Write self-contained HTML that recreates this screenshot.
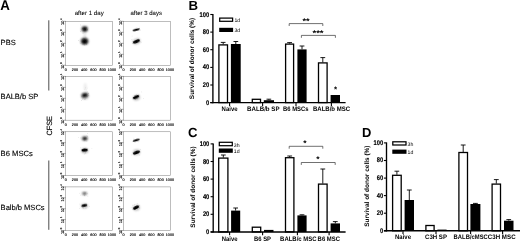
<!DOCTYPE html><html><head><meta charset="utf-8"><title>Figure</title><style>
html,body{margin:0;padding:0;background:#fff;}svg{display:block;}
text{font-family:"Liberation Sans",sans-serif;fill:#000;text-rendering:geometricPrecision;}
.b{font-weight:bold;}
</style></head><body>
<svg width="520" height="241" viewBox="0 0 520 241">
<defs><filter id="bl" x="-50%" y="-50%" width="200%" height="200%"><feGaussianBlur stdDeviation="0.9"/></filter><filter id="bs" x="-50%" y="-50%" width="200%" height="200%"><feGaussianBlur stdDeviation="0.6"/></filter><filter id="gb" x="0" y="0" width="520" height="241" filterUnits="userSpaceOnUse"><feGaussianBlur stdDeviation="0.32"/></filter></defs>
<g filter="url(#gb)">
<rect width="520" height="241" fill="#fff"/>
<text transform="translate(0.30,9.80) scale(0.1)" font-size="142.0" class="b" textLength="96.0" lengthAdjust="spacingAndGlyphs">A</text>
<text transform="translate(188.60,9.50) scale(0.1)" font-size="133.0" class="b">B</text>
<text transform="translate(188.10,137.00) scale(0.1)" font-size="132.0" class="b">C</text>
<text transform="translate(362.00,136.70) scale(0.1)" font-size="130.0" class="b">D</text>
<text transform="translate(74.70,15.00) scale(0.1)" font-size="61.0" textLength="290.0" lengthAdjust="spacingAndGlyphs" stroke="#000" stroke-width="0.6">after 1 day</text>
<text transform="translate(130.50,15.00) scale(0.1)" font-size="61.0" textLength="315.0" lengthAdjust="spacingAndGlyphs" stroke="#000" stroke-width="0.6">after 3 days</text>
<text transform="translate(0.60,44.80) scale(0.1)" font-size="75.0" textLength="151.0" lengthAdjust="spacingAndGlyphs" stroke="#000" stroke-width="1.2">PBS</text>
<text transform="translate(0.60,99.20) scale(0.1)" font-size="75.0" textLength="377.0" lengthAdjust="spacingAndGlyphs" stroke="#000" stroke-width="1.2">BALB/b SP</text>
<text transform="translate(0.60,155.50) scale(0.1)" font-size="75.0" textLength="322.0" lengthAdjust="spacingAndGlyphs" stroke="#000" stroke-width="1.2">B6 MSCs</text>
<text transform="translate(0.60,209.90) scale(0.1)" font-size="75.0" textLength="440.0" lengthAdjust="spacingAndGlyphs" stroke="#000" stroke-width="1.2">Balb/b MSCs</text>
<text transform="translate(52.30,135.60) rotate(-90) scale(0.1)" font-size="76.0" textLength="196.0" lengthAdjust="spacingAndGlyphs" stroke="#000" stroke-width="1.5">CFSE</text>
<line x1="48.8" y1="20.3" x2="48.8" y2="90.5" stroke="#111" stroke-width="0.75"/>
<line x1="48.8" y1="160.5" x2="48.8" y2="229.8" stroke="#111" stroke-width="0.75"/>
<rect x="65.5" y="21.3" width="46.9" height="44.0" fill="none" stroke="#888" stroke-width="0.55"/>
<text transform="translate(65.70,70.65) scale(0.1)" font-size="37.0" text-anchor="middle" stroke="#000" stroke-width="1.5">0</text>
<text transform="translate(74.94,70.65) scale(0.1)" font-size="37.0" text-anchor="middle" stroke="#000" stroke-width="1.5">200</text>
<text transform="translate(84.18,70.65) scale(0.1)" font-size="37.0" text-anchor="middle" stroke="#000" stroke-width="1.5">400</text>
<text transform="translate(93.42,70.65) scale(0.1)" font-size="37.0" text-anchor="middle" stroke="#000" stroke-width="1.5">600</text>
<text transform="translate(102.66,70.65) scale(0.1)" font-size="37.0" text-anchor="middle" stroke="#000" stroke-width="1.5">800</text>
<text transform="translate(111.90,70.65) scale(0.1)" font-size="37.0" text-anchor="middle" stroke="#000" stroke-width="1.5">1000</text>
<text transform="translate(63.80,68.85) rotate(-90) scale(0.1)" font-size="39.0" stroke="#000" stroke-width="1.5">10<tspan dx="5" dy="-17" font-size="28">0</tspan></text>
<line x1="64.3" y1="65.2" x2="65.5" y2="65.2" stroke="#333" stroke-width="0.5"/>
<text transform="translate(63.80,57.86) rotate(-90) scale(0.1)" font-size="39.0" stroke="#000" stroke-width="1.5">10<tspan dx="5" dy="-17" font-size="28">1</tspan></text>
<line x1="64.3" y1="54.3" x2="65.5" y2="54.3" stroke="#333" stroke-width="0.5"/>
<text transform="translate(63.80,46.88) rotate(-90) scale(0.1)" font-size="39.0" stroke="#000" stroke-width="1.5">10<tspan dx="5" dy="-17" font-size="28">2</tspan></text>
<line x1="64.3" y1="43.3" x2="65.5" y2="43.3" stroke="#333" stroke-width="0.5"/>
<text transform="translate(63.80,35.89) rotate(-90) scale(0.1)" font-size="39.0" stroke="#000" stroke-width="1.5">10<tspan dx="5" dy="-17" font-size="28">3</tspan></text>
<line x1="64.3" y1="32.3" x2="65.5" y2="32.3" stroke="#333" stroke-width="0.5"/>
<text transform="translate(63.80,24.90) rotate(-90) scale(0.1)" font-size="39.0" stroke="#000" stroke-width="1.5">10<tspan dx="5" dy="-17" font-size="28">4</tspan></text>
<line x1="64.3" y1="21.3" x2="65.5" y2="21.3" stroke="#333" stroke-width="0.5"/>
<rect x="123.4" y="21.3" width="47.0" height="44.0" fill="none" stroke="#888" stroke-width="0.55"/>
<text transform="translate(123.60,70.65) scale(0.1)" font-size="37.0" text-anchor="middle" stroke="#000" stroke-width="1.5">0</text>
<text transform="translate(132.86,70.65) scale(0.1)" font-size="37.0" text-anchor="middle" stroke="#000" stroke-width="1.5">200</text>
<text transform="translate(142.12,70.65) scale(0.1)" font-size="37.0" text-anchor="middle" stroke="#000" stroke-width="1.5">400</text>
<text transform="translate(151.38,70.65) scale(0.1)" font-size="37.0" text-anchor="middle" stroke="#000" stroke-width="1.5">600</text>
<text transform="translate(160.64,70.65) scale(0.1)" font-size="37.0" text-anchor="middle" stroke="#000" stroke-width="1.5">800</text>
<text transform="translate(169.90,70.65) scale(0.1)" font-size="37.0" text-anchor="middle" stroke="#000" stroke-width="1.5">1000</text>
<text transform="translate(121.70,68.85) rotate(-90) scale(0.1)" font-size="39.0" stroke="#000" stroke-width="1.5">10<tspan dx="5" dy="-17" font-size="28">0</tspan></text>
<line x1="122.2" y1="65.2" x2="123.4" y2="65.2" stroke="#333" stroke-width="0.5"/>
<text transform="translate(121.70,57.86) rotate(-90) scale(0.1)" font-size="39.0" stroke="#000" stroke-width="1.5">10<tspan dx="5" dy="-17" font-size="28">1</tspan></text>
<line x1="122.2" y1="54.3" x2="123.4" y2="54.3" stroke="#333" stroke-width="0.5"/>
<text transform="translate(121.70,46.88) rotate(-90) scale(0.1)" font-size="39.0" stroke="#000" stroke-width="1.5">10<tspan dx="5" dy="-17" font-size="28">2</tspan></text>
<line x1="122.2" y1="43.3" x2="123.4" y2="43.3" stroke="#333" stroke-width="0.5"/>
<text transform="translate(121.70,35.89) rotate(-90) scale(0.1)" font-size="39.0" stroke="#000" stroke-width="1.5">10<tspan dx="5" dy="-17" font-size="28">3</tspan></text>
<line x1="122.2" y1="32.3" x2="123.4" y2="32.3" stroke="#333" stroke-width="0.5"/>
<text transform="translate(121.70,24.90) rotate(-90) scale(0.1)" font-size="39.0" stroke="#000" stroke-width="1.5">10<tspan dx="5" dy="-17" font-size="28">4</tspan></text>
<line x1="122.2" y1="21.3" x2="123.4" y2="21.3" stroke="#333" stroke-width="0.5"/>
<rect x="65.5" y="76.4" width="46.9" height="43.8" fill="none" stroke="#888" stroke-width="0.55"/>
<text transform="translate(65.70,125.65) scale(0.1)" font-size="37.0" text-anchor="middle" stroke="#000" stroke-width="1.5">0</text>
<text transform="translate(74.94,125.65) scale(0.1)" font-size="37.0" text-anchor="middle" stroke="#000" stroke-width="1.5">200</text>
<text transform="translate(84.18,125.65) scale(0.1)" font-size="37.0" text-anchor="middle" stroke="#000" stroke-width="1.5">400</text>
<text transform="translate(93.42,125.65) scale(0.1)" font-size="37.0" text-anchor="middle" stroke="#000" stroke-width="1.5">600</text>
<text transform="translate(102.66,125.65) scale(0.1)" font-size="37.0" text-anchor="middle" stroke="#000" stroke-width="1.5">800</text>
<text transform="translate(111.90,125.65) scale(0.1)" font-size="37.0" text-anchor="middle" stroke="#000" stroke-width="1.5">1000</text>
<text transform="translate(63.80,123.85) rotate(-90) scale(0.1)" font-size="39.0" stroke="#000" stroke-width="1.5">10<tspan dx="5" dy="-17" font-size="28">0</tspan></text>
<line x1="64.3" y1="120.2" x2="65.5" y2="120.2" stroke="#333" stroke-width="0.5"/>
<text transform="translate(63.80,112.89) rotate(-90) scale(0.1)" font-size="39.0" stroke="#000" stroke-width="1.5">10<tspan dx="5" dy="-17" font-size="28">1</tspan></text>
<line x1="64.3" y1="109.3" x2="65.5" y2="109.3" stroke="#333" stroke-width="0.5"/>
<text transform="translate(63.80,101.92) rotate(-90) scale(0.1)" font-size="39.0" stroke="#000" stroke-width="1.5">10<tspan dx="5" dy="-17" font-size="28">2</tspan></text>
<line x1="64.3" y1="98.3" x2="65.5" y2="98.3" stroke="#333" stroke-width="0.5"/>
<text transform="translate(63.80,90.96) rotate(-90) scale(0.1)" font-size="39.0" stroke="#000" stroke-width="1.5">10<tspan dx="5" dy="-17" font-size="28">3</tspan></text>
<line x1="64.3" y1="87.4" x2="65.5" y2="87.4" stroke="#333" stroke-width="0.5"/>
<text transform="translate(63.80,80.00) rotate(-90) scale(0.1)" font-size="39.0" stroke="#000" stroke-width="1.5">10<tspan dx="5" dy="-17" font-size="28">4</tspan></text>
<line x1="64.3" y1="76.4" x2="65.5" y2="76.4" stroke="#333" stroke-width="0.5"/>
<rect x="123.4" y="76.4" width="47.0" height="43.8" fill="none" stroke="#888" stroke-width="0.55"/>
<text transform="translate(123.60,125.65) scale(0.1)" font-size="37.0" text-anchor="middle" stroke="#000" stroke-width="1.5">0</text>
<text transform="translate(132.86,125.65) scale(0.1)" font-size="37.0" text-anchor="middle" stroke="#000" stroke-width="1.5">200</text>
<text transform="translate(142.12,125.65) scale(0.1)" font-size="37.0" text-anchor="middle" stroke="#000" stroke-width="1.5">400</text>
<text transform="translate(151.38,125.65) scale(0.1)" font-size="37.0" text-anchor="middle" stroke="#000" stroke-width="1.5">600</text>
<text transform="translate(160.64,125.65) scale(0.1)" font-size="37.0" text-anchor="middle" stroke="#000" stroke-width="1.5">800</text>
<text transform="translate(169.90,125.65) scale(0.1)" font-size="37.0" text-anchor="middle" stroke="#000" stroke-width="1.5">1000</text>
<text transform="translate(121.70,123.85) rotate(-90) scale(0.1)" font-size="39.0" stroke="#000" stroke-width="1.5">10<tspan dx="5" dy="-17" font-size="28">0</tspan></text>
<line x1="122.2" y1="120.2" x2="123.4" y2="120.2" stroke="#333" stroke-width="0.5"/>
<text transform="translate(121.70,112.89) rotate(-90) scale(0.1)" font-size="39.0" stroke="#000" stroke-width="1.5">10<tspan dx="5" dy="-17" font-size="28">1</tspan></text>
<line x1="122.2" y1="109.3" x2="123.4" y2="109.3" stroke="#333" stroke-width="0.5"/>
<text transform="translate(121.70,101.92) rotate(-90) scale(0.1)" font-size="39.0" stroke="#000" stroke-width="1.5">10<tspan dx="5" dy="-17" font-size="28">2</tspan></text>
<line x1="122.2" y1="98.3" x2="123.4" y2="98.3" stroke="#333" stroke-width="0.5"/>
<text transform="translate(121.70,90.96) rotate(-90) scale(0.1)" font-size="39.0" stroke="#000" stroke-width="1.5">10<tspan dx="5" dy="-17" font-size="28">3</tspan></text>
<line x1="122.2" y1="87.4" x2="123.4" y2="87.4" stroke="#333" stroke-width="0.5"/>
<text transform="translate(121.70,80.00) rotate(-90) scale(0.1)" font-size="39.0" stroke="#000" stroke-width="1.5">10<tspan dx="5" dy="-17" font-size="28">4</tspan></text>
<line x1="122.2" y1="76.4" x2="123.4" y2="76.4" stroke="#333" stroke-width="0.5"/>
<rect x="65.5" y="131.75" width="46.9" height="43.8" fill="none" stroke="#888" stroke-width="0.55"/>
<text transform="translate(65.70,180.90) scale(0.1)" font-size="37.0" text-anchor="middle" stroke="#000" stroke-width="1.5">0</text>
<text transform="translate(74.94,180.90) scale(0.1)" font-size="37.0" text-anchor="middle" stroke="#000" stroke-width="1.5">200</text>
<text transform="translate(84.18,180.90) scale(0.1)" font-size="37.0" text-anchor="middle" stroke="#000" stroke-width="1.5">400</text>
<text transform="translate(93.42,180.90) scale(0.1)" font-size="37.0" text-anchor="middle" stroke="#000" stroke-width="1.5">600</text>
<text transform="translate(102.66,180.90) scale(0.1)" font-size="37.0" text-anchor="middle" stroke="#000" stroke-width="1.5">800</text>
<text transform="translate(111.90,180.90) scale(0.1)" font-size="37.0" text-anchor="middle" stroke="#000" stroke-width="1.5">1000</text>
<text transform="translate(63.80,179.10) rotate(-90) scale(0.1)" font-size="39.0" stroke="#000" stroke-width="1.5">10<tspan dx="5" dy="-17" font-size="28">0</tspan></text>
<line x1="64.3" y1="175.5" x2="65.5" y2="175.5" stroke="#333" stroke-width="0.5"/>
<text transform="translate(63.80,168.16) rotate(-90) scale(0.1)" font-size="39.0" stroke="#000" stroke-width="1.5">10<tspan dx="5" dy="-17" font-size="28">1</tspan></text>
<line x1="64.3" y1="164.6" x2="65.5" y2="164.6" stroke="#333" stroke-width="0.5"/>
<text transform="translate(63.80,157.22) rotate(-90) scale(0.1)" font-size="39.0" stroke="#000" stroke-width="1.5">10<tspan dx="5" dy="-17" font-size="28">2</tspan></text>
<line x1="64.3" y1="153.6" x2="65.5" y2="153.6" stroke="#333" stroke-width="0.5"/>
<text transform="translate(63.80,146.29) rotate(-90) scale(0.1)" font-size="39.0" stroke="#000" stroke-width="1.5">10<tspan dx="5" dy="-17" font-size="28">3</tspan></text>
<line x1="64.3" y1="142.7" x2="65.5" y2="142.7" stroke="#333" stroke-width="0.5"/>
<text transform="translate(63.80,135.35) rotate(-90) scale(0.1)" font-size="39.0" stroke="#000" stroke-width="1.5">10<tspan dx="5" dy="-17" font-size="28">4</tspan></text>
<line x1="64.3" y1="131.8" x2="65.5" y2="131.8" stroke="#333" stroke-width="0.5"/>
<rect x="123.4" y="131.75" width="47.0" height="43.8" fill="none" stroke="#888" stroke-width="0.55"/>
<text transform="translate(123.60,180.90) scale(0.1)" font-size="37.0" text-anchor="middle" stroke="#000" stroke-width="1.5">0</text>
<text transform="translate(132.86,180.90) scale(0.1)" font-size="37.0" text-anchor="middle" stroke="#000" stroke-width="1.5">200</text>
<text transform="translate(142.12,180.90) scale(0.1)" font-size="37.0" text-anchor="middle" stroke="#000" stroke-width="1.5">400</text>
<text transform="translate(151.38,180.90) scale(0.1)" font-size="37.0" text-anchor="middle" stroke="#000" stroke-width="1.5">600</text>
<text transform="translate(160.64,180.90) scale(0.1)" font-size="37.0" text-anchor="middle" stroke="#000" stroke-width="1.5">800</text>
<text transform="translate(169.90,180.90) scale(0.1)" font-size="37.0" text-anchor="middle" stroke="#000" stroke-width="1.5">1000</text>
<text transform="translate(121.70,179.10) rotate(-90) scale(0.1)" font-size="39.0" stroke="#000" stroke-width="1.5">10<tspan dx="5" dy="-17" font-size="28">0</tspan></text>
<line x1="122.2" y1="175.5" x2="123.4" y2="175.5" stroke="#333" stroke-width="0.5"/>
<text transform="translate(121.70,168.16) rotate(-90) scale(0.1)" font-size="39.0" stroke="#000" stroke-width="1.5">10<tspan dx="5" dy="-17" font-size="28">1</tspan></text>
<line x1="122.2" y1="164.6" x2="123.4" y2="164.6" stroke="#333" stroke-width="0.5"/>
<text transform="translate(121.70,157.22) rotate(-90) scale(0.1)" font-size="39.0" stroke="#000" stroke-width="1.5">10<tspan dx="5" dy="-17" font-size="28">2</tspan></text>
<line x1="122.2" y1="153.6" x2="123.4" y2="153.6" stroke="#333" stroke-width="0.5"/>
<text transform="translate(121.70,146.29) rotate(-90) scale(0.1)" font-size="39.0" stroke="#000" stroke-width="1.5">10<tspan dx="5" dy="-17" font-size="28">3</tspan></text>
<line x1="122.2" y1="142.7" x2="123.4" y2="142.7" stroke="#333" stroke-width="0.5"/>
<text transform="translate(121.70,135.35) rotate(-90) scale(0.1)" font-size="39.0" stroke="#000" stroke-width="1.5">10<tspan dx="5" dy="-17" font-size="28">4</tspan></text>
<line x1="122.2" y1="131.8" x2="123.4" y2="131.8" stroke="#333" stroke-width="0.5"/>
<rect x="65.5" y="186.9" width="46.9" height="43.6" fill="none" stroke="#888" stroke-width="0.55"/>
<text transform="translate(65.70,235.90) scale(0.1)" font-size="37.0" text-anchor="middle" stroke="#000" stroke-width="1.5">0</text>
<text transform="translate(74.94,235.90) scale(0.1)" font-size="37.0" text-anchor="middle" stroke="#000" stroke-width="1.5">200</text>
<text transform="translate(84.18,235.90) scale(0.1)" font-size="37.0" text-anchor="middle" stroke="#000" stroke-width="1.5">400</text>
<text transform="translate(93.42,235.90) scale(0.1)" font-size="37.0" text-anchor="middle" stroke="#000" stroke-width="1.5">600</text>
<text transform="translate(102.66,235.90) scale(0.1)" font-size="37.0" text-anchor="middle" stroke="#000" stroke-width="1.5">800</text>
<text transform="translate(111.90,235.90) scale(0.1)" font-size="37.0" text-anchor="middle" stroke="#000" stroke-width="1.5">1000</text>
<text transform="translate(63.80,234.10) rotate(-90) scale(0.1)" font-size="39.0" stroke="#000" stroke-width="1.5">10<tspan dx="5" dy="-17" font-size="28">0</tspan></text>
<line x1="64.3" y1="230.5" x2="65.5" y2="230.5" stroke="#333" stroke-width="0.5"/>
<text transform="translate(63.80,223.20) rotate(-90) scale(0.1)" font-size="39.0" stroke="#000" stroke-width="1.5">10<tspan dx="5" dy="-17" font-size="28">1</tspan></text>
<line x1="64.3" y1="219.6" x2="65.5" y2="219.6" stroke="#333" stroke-width="0.5"/>
<text transform="translate(63.80,212.30) rotate(-90) scale(0.1)" font-size="39.0" stroke="#000" stroke-width="1.5">10<tspan dx="5" dy="-17" font-size="28">2</tspan></text>
<line x1="64.3" y1="208.7" x2="65.5" y2="208.7" stroke="#333" stroke-width="0.5"/>
<text transform="translate(63.80,201.40) rotate(-90) scale(0.1)" font-size="39.0" stroke="#000" stroke-width="1.5">10<tspan dx="5" dy="-17" font-size="28">3</tspan></text>
<line x1="64.3" y1="197.8" x2="65.5" y2="197.8" stroke="#333" stroke-width="0.5"/>
<text transform="translate(63.80,190.50) rotate(-90) scale(0.1)" font-size="39.0" stroke="#000" stroke-width="1.5">10<tspan dx="5" dy="-17" font-size="28">4</tspan></text>
<line x1="64.3" y1="186.9" x2="65.5" y2="186.9" stroke="#333" stroke-width="0.5"/>
<rect x="123.4" y="186.9" width="47.0" height="43.6" fill="none" stroke="#888" stroke-width="0.55"/>
<text transform="translate(123.60,235.90) scale(0.1)" font-size="37.0" text-anchor="middle" stroke="#000" stroke-width="1.5">0</text>
<text transform="translate(132.86,235.90) scale(0.1)" font-size="37.0" text-anchor="middle" stroke="#000" stroke-width="1.5">200</text>
<text transform="translate(142.12,235.90) scale(0.1)" font-size="37.0" text-anchor="middle" stroke="#000" stroke-width="1.5">400</text>
<text transform="translate(151.38,235.90) scale(0.1)" font-size="37.0" text-anchor="middle" stroke="#000" stroke-width="1.5">600</text>
<text transform="translate(160.64,235.90) scale(0.1)" font-size="37.0" text-anchor="middle" stroke="#000" stroke-width="1.5">800</text>
<text transform="translate(169.90,235.90) scale(0.1)" font-size="37.0" text-anchor="middle" stroke="#000" stroke-width="1.5">1000</text>
<text transform="translate(121.70,234.10) rotate(-90) scale(0.1)" font-size="39.0" stroke="#000" stroke-width="1.5">10<tspan dx="5" dy="-17" font-size="28">0</tspan></text>
<line x1="122.2" y1="230.5" x2="123.4" y2="230.5" stroke="#333" stroke-width="0.5"/>
<text transform="translate(121.70,223.20) rotate(-90) scale(0.1)" font-size="39.0" stroke="#000" stroke-width="1.5">10<tspan dx="5" dy="-17" font-size="28">1</tspan></text>
<line x1="122.2" y1="219.6" x2="123.4" y2="219.6" stroke="#333" stroke-width="0.5"/>
<text transform="translate(121.70,212.30) rotate(-90) scale(0.1)" font-size="39.0" stroke="#000" stroke-width="1.5">10<tspan dx="5" dy="-17" font-size="28">2</tspan></text>
<line x1="122.2" y1="208.7" x2="123.4" y2="208.7" stroke="#333" stroke-width="0.5"/>
<text transform="translate(121.70,201.40) rotate(-90) scale(0.1)" font-size="39.0" stroke="#000" stroke-width="1.5">10<tspan dx="5" dy="-17" font-size="28">3</tspan></text>
<line x1="122.2" y1="197.8" x2="123.4" y2="197.8" stroke="#333" stroke-width="0.5"/>
<text transform="translate(121.70,190.50) rotate(-90) scale(0.1)" font-size="39.0" stroke="#000" stroke-width="1.5">10<tspan dx="5" dy="-17" font-size="28">4</tspan></text>
<line x1="122.2" y1="186.9" x2="123.4" y2="186.9" stroke="#333" stroke-width="0.5"/>
<ellipse cx="84.7" cy="29.1" rx="2.5" ry="2.3" transform="rotate(0 84.7 29.1)" fill="#000" opacity="1" filter="url(#bl)"/>
<ellipse cx="84.7" cy="29.1" rx="3.5" ry="3.2" transform="rotate(0 84.7 29.1)" fill="#000" opacity="0.35" filter="url(#bl)"/>
<circle cx="84.0" cy="30.3" r="0.35" fill="#000" opacity="0.3"/>
<circle cx="84.1" cy="28.3" r="0.35" fill="#000" opacity="0.3"/>
<circle cx="82.3" cy="28.6" r="0.35" fill="#000" opacity="0.3"/>
<circle cx="87.6" cy="30.1" r="0.35" fill="#000" opacity="0.3"/>
<circle cx="87.4" cy="29.7" r="0.35" fill="#000" opacity="0.3"/>
<circle cx="85.7" cy="29.5" r="0.35" fill="#000" opacity="0.3"/>
<circle cx="80.4" cy="31.2" r="0.35" fill="#000" opacity="0.3"/>
<circle cx="86.0" cy="30.3" r="0.35" fill="#000" opacity="0.3"/>
<circle cx="80.3" cy="24.9" r="0.35" fill="#000" opacity="0.3"/>
<circle cx="82.4" cy="28.0" r="0.35" fill="#000" opacity="0.3"/>
<circle cx="85.5" cy="29.0" r="0.35" fill="#000" opacity="0.3"/>
<circle cx="86.1" cy="27.6" r="0.35" fill="#000" opacity="0.3"/>
<circle cx="85.5" cy="30.0" r="0.35" fill="#000" opacity="0.3"/>
<circle cx="83.0" cy="33.2" r="0.35" fill="#000" opacity="0.3"/>
<ellipse cx="84.6" cy="41.2" rx="3.0" ry="2.8" transform="rotate(0 84.6 41.2)" fill="#000" opacity="1" filter="url(#bl)"/>
<ellipse cx="84.6" cy="41.2" rx="4.0" ry="3.6" transform="rotate(0 84.6 41.2)" fill="#000" opacity="0.4" filter="url(#bl)"/>
<circle cx="86.3" cy="44.6" r="0.35" fill="#000" opacity="0.3"/>
<circle cx="82.7" cy="39.1" r="0.35" fill="#000" opacity="0.3"/>
<circle cx="83.6" cy="40.9" r="0.35" fill="#000" opacity="0.3"/>
<circle cx="86.5" cy="41.9" r="0.35" fill="#000" opacity="0.3"/>
<circle cx="83.3" cy="38.5" r="0.35" fill="#000" opacity="0.3"/>
<circle cx="83.0" cy="44.6" r="0.35" fill="#000" opacity="0.3"/>
<circle cx="82.2" cy="41.9" r="0.35" fill="#000" opacity="0.3"/>
<circle cx="85.9" cy="37.0" r="0.35" fill="#000" opacity="0.3"/>
<circle cx="84.7" cy="44.9" r="0.35" fill="#000" opacity="0.3"/>
<circle cx="78.6" cy="40.3" r="0.35" fill="#000" opacity="0.3"/>
<circle cx="84.3" cy="38.9" r="0.35" fill="#000" opacity="0.3"/>
<circle cx="86.1" cy="41.0" r="0.35" fill="#000" opacity="0.3"/>
<circle cx="80.2" cy="43.5" r="0.35" fill="#000" opacity="0.3"/>
<circle cx="86.6" cy="43.8" r="0.35" fill="#000" opacity="0.3"/>
<ellipse cx="84.8" cy="35" rx="1.2" ry="2.5" transform="rotate(0 84.8 35)" fill="#000" opacity="0.12" filter="url(#bl)"/>
<ellipse cx="136.2" cy="29.7" rx="3.6" ry="0.95" transform="rotate(-14 136.2 29.7)" fill="#000" opacity="1" filter="url(#bs)"/>
<circle cx="140.1" cy="29.9" r="0.35" fill="#000" opacity="0.2"/>
<circle cx="136.8" cy="27.9" r="0.35" fill="#000" opacity="0.2"/>
<circle cx="138.0" cy="28.8" r="0.35" fill="#000" opacity="0.2"/>
<circle cx="135.4" cy="28.0" r="0.35" fill="#000" opacity="0.2"/>
<circle cx="134.1" cy="28.9" r="0.35" fill="#000" opacity="0.2"/>
<circle cx="139.7" cy="27.1" r="0.35" fill="#000" opacity="0.2"/>
<circle cx="132.9" cy="29.8" r="0.35" fill="#000" opacity="0.2"/>
<circle cx="140.1" cy="30.2" r="0.35" fill="#000" opacity="0.2"/>
<ellipse cx="136.4" cy="41.5" rx="3.7" ry="1.4" transform="rotate(-24 136.4 41.5)" fill="#000" opacity="1" filter="url(#bs)"/>
<ellipse cx="136.6" cy="41.4" rx="3.6" ry="2.3" transform="rotate(-22 136.6 41.4)" fill="#000" opacity="0.35" filter="url(#bl)"/>
<circle cx="132.1" cy="36.0" r="0.35" fill="#000" opacity="0.25"/>
<circle cx="137.9" cy="39.5" r="0.35" fill="#000" opacity="0.25"/>
<circle cx="134.1" cy="43.0" r="0.35" fill="#000" opacity="0.25"/>
<circle cx="139.9" cy="41.3" r="0.35" fill="#000" opacity="0.25"/>
<circle cx="137.6" cy="41.9" r="0.35" fill="#000" opacity="0.25"/>
<circle cx="141.1" cy="42.2" r="0.35" fill="#000" opacity="0.25"/>
<circle cx="138.3" cy="42.1" r="0.35" fill="#000" opacity="0.25"/>
<circle cx="132.9" cy="43.6" r="0.35" fill="#000" opacity="0.25"/>
<circle cx="139.5" cy="42.1" r="0.35" fill="#000" opacity="0.25"/>
<circle cx="131.9" cy="39.7" r="0.35" fill="#000" opacity="0.25"/>
<ellipse cx="84.8" cy="95.2" rx="3.0" ry="1.9" transform="rotate(-15 84.8 95.2)" fill="#000" opacity="1" filter="url(#bl)"/>
<ellipse cx="84.9" cy="96" rx="3.6" ry="3.2" transform="rotate(0 84.9 96)" fill="#000" opacity="0.3" filter="url(#bl)"/>
<ellipse cx="85.2" cy="87" rx="1.5" ry="4" transform="rotate(0 85.2 87)" fill="#000" opacity="0.08" filter="url(#bl)"/>
<circle cx="87.2" cy="91.8" r="0.35" fill="#000" opacity="0.25"/>
<circle cx="84.5" cy="99.2" r="0.35" fill="#000" opacity="0.25"/>
<circle cx="81.6" cy="100.7" r="0.35" fill="#000" opacity="0.25"/>
<circle cx="86.4" cy="96.1" r="0.35" fill="#000" opacity="0.25"/>
<circle cx="85.8" cy="98.2" r="0.35" fill="#000" opacity="0.25"/>
<circle cx="85.3" cy="99.5" r="0.35" fill="#000" opacity="0.25"/>
<circle cx="83.3" cy="95.4" r="0.35" fill="#000" opacity="0.25"/>
<circle cx="87.7" cy="96.6" r="0.35" fill="#000" opacity="0.25"/>
<circle cx="82.7" cy="99.0" r="0.35" fill="#000" opacity="0.25"/>
<circle cx="88.8" cy="95.3" r="0.35" fill="#000" opacity="0.25"/>
<circle cx="81.4" cy="96.1" r="0.35" fill="#000" opacity="0.25"/>
<circle cx="84.6" cy="95.7" r="0.35" fill="#000" opacity="0.25"/>
<circle cx="88.7" cy="93.8" r="0.35" fill="#000" opacity="0.25"/>
<circle cx="88.3" cy="93.2" r="0.35" fill="#000" opacity="0.25"/>
<circle cx="84.4" cy="89.2" r="0.35" fill="#000" opacity="0.12"/>
<circle cx="86.7" cy="90.0" r="0.35" fill="#000" opacity="0.12"/>
<circle cx="85.7" cy="87.5" r="0.35" fill="#000" opacity="0.12"/>
<circle cx="85.5" cy="89.0" r="0.35" fill="#000" opacity="0.12"/>
<circle cx="85.1" cy="88.0" r="0.35" fill="#000" opacity="0.12"/>
<circle cx="86.0" cy="87.0" r="0.35" fill="#000" opacity="0.12"/>
<circle cx="86.2" cy="89.0" r="0.35" fill="#000" opacity="0.12"/>
<circle cx="87.7" cy="88.1" r="0.35" fill="#000" opacity="0.12"/>
<ellipse cx="136.0" cy="97.0" rx="3.3" ry="1.5" transform="rotate(-26 136.0 97.0)" fill="#000" opacity="1" filter="url(#bs)"/>
<ellipse cx="136.6" cy="97.6" rx="3.4" ry="2.6" transform="rotate(-20 136.6 97.6)" fill="#000" opacity="0.3" filter="url(#bl)"/>
<circle cx="135.9" cy="96.7" r="0.35" fill="#000" opacity="0.22"/>
<circle cx="137.0" cy="99.5" r="0.35" fill="#000" opacity="0.22"/>
<circle cx="136.1" cy="98.3" r="0.35" fill="#000" opacity="0.22"/>
<circle cx="141.8" cy="91.9" r="0.35" fill="#000" opacity="0.22"/>
<circle cx="134.1" cy="98.0" r="0.35" fill="#000" opacity="0.22"/>
<circle cx="138.0" cy="98.0" r="0.35" fill="#000" opacity="0.22"/>
<circle cx="135.9" cy="98.9" r="0.35" fill="#000" opacity="0.22"/>
<circle cx="137.7" cy="96.4" r="0.35" fill="#000" opacity="0.22"/>
<circle cx="143.3" cy="98.3" r="0.35" fill="#000" opacity="0.22"/>
<circle cx="135.6" cy="97.3" r="0.35" fill="#000" opacity="0.22"/>
<ellipse cx="84.8" cy="138.5" rx="2.2" ry="1.5" transform="rotate(0 84.8 138.5)" fill="#000" opacity="0.95" filter="url(#bl)"/>
<ellipse cx="84.8" cy="138.5" rx="3.2" ry="2.4" transform="rotate(0 84.8 138.5)" fill="#000" opacity="0.3" filter="url(#bl)"/>
<circle cx="84.3" cy="138.4" r="0.35" fill="#000" opacity="0.22"/>
<circle cx="78.3" cy="137.6" r="0.35" fill="#000" opacity="0.22"/>
<circle cx="87.2" cy="136.4" r="0.35" fill="#000" opacity="0.22"/>
<circle cx="84.6" cy="140.2" r="0.35" fill="#000" opacity="0.22"/>
<circle cx="86.9" cy="141.2" r="0.35" fill="#000" opacity="0.22"/>
<circle cx="80.7" cy="137.9" r="0.35" fill="#000" opacity="0.22"/>
<circle cx="84.0" cy="139.6" r="0.35" fill="#000" opacity="0.22"/>
<circle cx="87.4" cy="133.7" r="0.35" fill="#000" opacity="0.22"/>
<circle cx="87.4" cy="135.9" r="0.35" fill="#000" opacity="0.22"/>
<circle cx="86.4" cy="135.8" r="0.35" fill="#000" opacity="0.22"/>
<ellipse cx="84.6" cy="150" rx="3.1" ry="1.5" transform="rotate(-6 84.6 150)" fill="#000" opacity="1" filter="url(#bs)"/>
<ellipse cx="84.8" cy="150.6" rx="3.4" ry="2.6" transform="rotate(0 84.8 150.6)" fill="#000" opacity="0.3" filter="url(#bl)"/>
<circle cx="85.3" cy="153.2" r="0.35" fill="#000" opacity="0.22"/>
<circle cx="84.4" cy="151.2" r="0.35" fill="#000" opacity="0.22"/>
<circle cx="86.9" cy="151.1" r="0.35" fill="#000" opacity="0.22"/>
<circle cx="84.6" cy="153.9" r="0.35" fill="#000" opacity="0.22"/>
<circle cx="87.5" cy="150.2" r="0.35" fill="#000" opacity="0.22"/>
<circle cx="91.9" cy="148.5" r="0.35" fill="#000" opacity="0.22"/>
<circle cx="87.2" cy="150.3" r="0.35" fill="#000" opacity="0.22"/>
<circle cx="85.1" cy="152.2" r="0.35" fill="#000" opacity="0.22"/>
<circle cx="85.4" cy="152.1" r="0.35" fill="#000" opacity="0.22"/>
<circle cx="80.8" cy="147.8" r="0.35" fill="#000" opacity="0.22"/>
<ellipse cx="136.2" cy="140.2" rx="3.5" ry="0.95" transform="rotate(-16 136.2 140.2)" fill="#000" opacity="1" filter="url(#bs)"/>
<circle cx="137.9" cy="138.8" r="0.35" fill="#000" opacity="0.2"/>
<circle cx="133.9" cy="138.2" r="0.35" fill="#000" opacity="0.2"/>
<circle cx="139.4" cy="140.9" r="0.35" fill="#000" opacity="0.2"/>
<circle cx="139.9" cy="138.9" r="0.35" fill="#000" opacity="0.2"/>
<circle cx="136.4" cy="138.6" r="0.35" fill="#000" opacity="0.2"/>
<circle cx="138.2" cy="141.9" r="0.35" fill="#000" opacity="0.2"/>
<ellipse cx="136.4" cy="152.5" rx="3.6" ry="1.5" transform="rotate(-20 136.4 152.5)" fill="#000" opacity="1" filter="url(#bs)"/>
<ellipse cx="136.6" cy="152.2" rx="3.3" ry="2.8" transform="rotate(-10 136.6 152.2)" fill="#000" opacity="0.3" filter="url(#bl)"/>
<circle cx="134.5" cy="155.2" r="0.35" fill="#000" opacity="0.22"/>
<circle cx="139.4" cy="151.4" r="0.35" fill="#000" opacity="0.22"/>
<circle cx="131.7" cy="154.9" r="0.35" fill="#000" opacity="0.22"/>
<circle cx="136.5" cy="150.5" r="0.35" fill="#000" opacity="0.22"/>
<circle cx="137.8" cy="152.7" r="0.35" fill="#000" opacity="0.22"/>
<circle cx="140.7" cy="149.6" r="0.35" fill="#000" opacity="0.22"/>
<circle cx="139.8" cy="155.1" r="0.35" fill="#000" opacity="0.22"/>
<circle cx="140.6" cy="151.4" r="0.35" fill="#000" opacity="0.22"/>
<circle cx="134.9" cy="154.0" r="0.35" fill="#000" opacity="0.22"/>
<circle cx="137.1" cy="152.1" r="0.35" fill="#000" opacity="0.22"/>
<ellipse cx="84.5" cy="193.5" rx="1.9" ry="1.1" transform="rotate(0 84.5 193.5)" fill="#000" opacity="0.8" filter="url(#bl)"/>
<ellipse cx="84.6" cy="193.6" rx="3" ry="2" transform="rotate(0 84.6 193.6)" fill="#000" opacity="0.18" filter="url(#bl)"/>
<circle cx="87.7" cy="193.4" r="0.35" fill="#000" opacity="0.18"/>
<circle cx="79.5" cy="193.2" r="0.35" fill="#000" opacity="0.18"/>
<circle cx="80.5" cy="195.1" r="0.35" fill="#000" opacity="0.18"/>
<circle cx="85.3" cy="192.8" r="0.35" fill="#000" opacity="0.18"/>
<circle cx="84.6" cy="195.1" r="0.35" fill="#000" opacity="0.18"/>
<circle cx="84.8" cy="195.9" r="0.35" fill="#000" opacity="0.18"/>
<circle cx="84.5" cy="195.5" r="0.35" fill="#000" opacity="0.18"/>
<circle cx="87.9" cy="196.4" r="0.35" fill="#000" opacity="0.18"/>
<ellipse cx="84.3" cy="205.5" rx="3.0" ry="1.3" transform="rotate(-12 84.3 205.5)" fill="#000" opacity="1" filter="url(#bs)"/>
<ellipse cx="84.5" cy="206" rx="3.4" ry="2.4" transform="rotate(0 84.5 206)" fill="#000" opacity="0.25" filter="url(#bl)"/>
<circle cx="82.9" cy="208.0" r="0.35" fill="#000" opacity="0.2"/>
<circle cx="79.7" cy="204.0" r="0.35" fill="#000" opacity="0.2"/>
<circle cx="79.5" cy="208.3" r="0.35" fill="#000" opacity="0.2"/>
<circle cx="81.4" cy="206.2" r="0.35" fill="#000" opacity="0.2"/>
<circle cx="84.1" cy="206.1" r="0.35" fill="#000" opacity="0.2"/>
<circle cx="83.1" cy="206.7" r="0.35" fill="#000" opacity="0.2"/>
<circle cx="89.3" cy="206.3" r="0.35" fill="#000" opacity="0.2"/>
<circle cx="86.0" cy="208.2" r="0.35" fill="#000" opacity="0.2"/>
<circle cx="84.1" cy="203.7" r="0.35" fill="#000" opacity="0.2"/>
<circle cx="83.2" cy="208.3" r="0.35" fill="#000" opacity="0.2"/>
<ellipse cx="136.0" cy="207.5" rx="3.3" ry="1.5" transform="rotate(-28 136.0 207.5)" fill="#000" opacity="1" filter="url(#bs)"/>
<ellipse cx="136.5" cy="207.8" rx="3.2" ry="2.6" transform="rotate(-20 136.5 207.8)" fill="#000" opacity="0.3" filter="url(#bl)"/>
<circle cx="132.8" cy="205.1" r="0.35" fill="#000" opacity="0.2"/>
<circle cx="139.2" cy="208.4" r="0.35" fill="#000" opacity="0.2"/>
<circle cx="136.8" cy="208.4" r="0.35" fill="#000" opacity="0.2"/>
<circle cx="137.2" cy="203.7" r="0.35" fill="#000" opacity="0.2"/>
<circle cx="133.0" cy="205.0" r="0.35" fill="#000" opacity="0.2"/>
<circle cx="139.0" cy="205.1" r="0.35" fill="#000" opacity="0.2"/>
<circle cx="134.6" cy="204.6" r="0.35" fill="#000" opacity="0.2"/>
<circle cx="133.1" cy="206.2" r="0.35" fill="#000" opacity="0.2"/>
<circle cx="134.0" cy="207.4" r="0.35" fill="#000" opacity="0.2"/>
<circle cx="131.1" cy="207.3" r="0.35" fill="#000" opacity="0.2"/>
<text transform="translate(194.40,58.50) rotate(-90) scale(0.1)" font-size="65.0" class="b" text-anchor="middle" textLength="813.0" lengthAdjust="spacingAndGlyphs">Survival of donor cells (%)</text>
<line x1="223.2" y1="44.4" x2="223.2" y2="42.4" stroke="#000" stroke-width="0.9"/>
<line x1="220.8" y1="42.4" x2="225.5" y2="42.4" stroke="#000" stroke-width="0.9"/>
<rect x="218.9" y="44.9" width="8.6" height="57.7" fill="#fff" stroke="#000" stroke-width="1.3"/>
<line x1="235.8" y1="44.0" x2="235.8" y2="41.5" stroke="#000" stroke-width="0.9"/>
<line x1="233.5" y1="41.5" x2="238.2" y2="41.5" stroke="#000" stroke-width="0.9"/>
<rect x="230.9" y="44.0" width="9.8" height="58.6" fill="#000"/>
<rect x="252.3" y="99.3" width="8.2" height="3.3" fill="#fff" stroke="#000" stroke-width="1.3"/>
<line x1="268.9" y1="100.2" x2="268.9" y2="99.2" stroke="#000" stroke-width="0.9"/>
<line x1="266.5" y1="99.2" x2="271.2" y2="99.2" stroke="#000" stroke-width="0.9"/>
<rect x="263.8" y="100.2" width="10.2" height="2.4" fill="#000"/>
<line x1="289.6" y1="43.6" x2="289.6" y2="42.6" stroke="#000" stroke-width="0.9"/>
<line x1="287.2" y1="42.6" x2="292.0" y2="42.6" stroke="#000" stroke-width="0.9"/>
<rect x="285.6" y="44.1" width="8.0" height="58.5" fill="#fff" stroke="#000" stroke-width="1.3"/>
<line x1="302.0" y1="49.4" x2="302.0" y2="46.0" stroke="#000" stroke-width="0.9"/>
<line x1="299.6" y1="46.0" x2="304.4" y2="46.0" stroke="#000" stroke-width="0.9"/>
<rect x="297.4" y="49.4" width="9.2" height="53.2" fill="#000"/>
<line x1="322.8" y1="62.4" x2="322.8" y2="57.6" stroke="#000" stroke-width="0.9"/>
<line x1="320.4" y1="57.6" x2="325.2" y2="57.6" stroke="#000" stroke-width="0.9"/>
<rect x="318.5" y="62.9" width="8.6" height="39.7" fill="#fff" stroke="#000" stroke-width="1.3"/>
<rect x="330.6" y="95.0" width="9.4" height="7.6" fill="#000"/>
<line x1="212.9" y1="14.0" x2="212.9" y2="103.3" stroke="#000" stroke-width="1.35"/>
<line x1="210.3" y1="102.6" x2="345.6" y2="102.6" stroke="#000" stroke-width="1.45"/>
<line x1="210.3" y1="102.6" x2="212.9" y2="102.6" stroke="#000" stroke-width="1.1"/>
<text transform="translate(209.20,104.60) scale(0.1)" font-size="68.0" class="b" text-anchor="end" textLength="32.0" lengthAdjust="spacingAndGlyphs" stroke="#000" stroke-width="1.4">0</text>
<line x1="210.3" y1="85.0" x2="212.9" y2="85.0" stroke="#000" stroke-width="1.1"/>
<text transform="translate(209.20,86.98) scale(0.1)" font-size="68.0" class="b" text-anchor="end" textLength="64.0" lengthAdjust="spacingAndGlyphs" stroke="#000" stroke-width="1.4">20</text>
<line x1="210.3" y1="67.4" x2="212.9" y2="67.4" stroke="#000" stroke-width="1.1"/>
<text transform="translate(209.20,69.36) scale(0.1)" font-size="68.0" class="b" text-anchor="end" textLength="64.0" lengthAdjust="spacingAndGlyphs" stroke="#000" stroke-width="1.4">40</text>
<line x1="210.3" y1="49.7" x2="212.9" y2="49.7" stroke="#000" stroke-width="1.1"/>
<text transform="translate(209.20,51.74) scale(0.1)" font-size="68.0" class="b" text-anchor="end" textLength="64.0" lengthAdjust="spacingAndGlyphs" stroke="#000" stroke-width="1.4">60</text>
<line x1="210.3" y1="32.1" x2="212.9" y2="32.1" stroke="#000" stroke-width="1.1"/>
<text transform="translate(209.20,34.12) scale(0.1)" font-size="68.0" class="b" text-anchor="end" textLength="64.0" lengthAdjust="spacingAndGlyphs" stroke="#000" stroke-width="1.4">80</text>
<line x1="210.3" y1="14.5" x2="212.9" y2="14.5" stroke="#000" stroke-width="1.1"/>
<text transform="translate(209.20,16.50) scale(0.1)" font-size="68.0" class="b" text-anchor="end" textLength="96.0" lengthAdjust="spacingAndGlyphs" stroke="#000" stroke-width="1.4">100</text>
<line x1="229.6" y1="102.6" x2="229.6" y2="105.89999999999999" stroke="#000" stroke-width="1.1"/>
<text transform="translate(221.60,111.00) scale(0.1)" font-size="65.0" class="b" textLength="160.0" lengthAdjust="spacingAndGlyphs">Naive</text>
<line x1="262.6" y1="102.6" x2="262.6" y2="105.89999999999999" stroke="#000" stroke-width="1.1"/>
<text transform="translate(247.00,111.00) scale(0.1)" font-size="65.0" class="b" textLength="326.0" lengthAdjust="spacingAndGlyphs">BALB/b SP</text>
<line x1="296" y1="102.6" x2="296" y2="105.89999999999999" stroke="#000" stroke-width="1.1"/>
<text transform="translate(283.00,111.00) scale(0.1)" font-size="65.0" class="b" textLength="256.0" lengthAdjust="spacingAndGlyphs">B6 MSCs</text>
<line x1="331.4" y1="102.6" x2="331.4" y2="105.89999999999999" stroke="#000" stroke-width="1.1"/>
<text transform="translate(313.00,111.00) scale(0.1)" font-size="65.0" class="b" textLength="370.0" lengthAdjust="spacingAndGlyphs">BALB/b MSC</text>
<rect x="219.7" y="18.1" width="12.9" height="3.2" fill="#fff" stroke="#000" stroke-width="1.25"/>
<rect x="219.2" y="27.8" width="13.9" height="4.2" fill="#000"/>
<text transform="translate(234.40,22.20) scale(0.1)" font-size="52.0" fill="#333">1d</text>
<text transform="translate(234.40,32.20) scale(0.1)" font-size="52.0" fill="#333">3d</text>
<path d="M289.2 26.0V23.6H322.8V26.0" fill="none" stroke="#333" stroke-width="0.7"/>
<text transform="translate(306.00,23.90) scale(0.1)" font-size="85.0" class="b" text-anchor="middle" textLength="72.0" lengthAdjust="spacingAndGlyphs">**</text>
<path d="M301.4 37.8V35.4H335.4V37.8" fill="none" stroke="#333" stroke-width="0.7"/>
<text transform="translate(318.00,35.80) scale(0.1)" font-size="85.0" class="b" text-anchor="middle" textLength="112.0" lengthAdjust="spacingAndGlyphs">***</text>
<text transform="translate(335.60,92.40) scale(0.1)" font-size="80.0" class="b" text-anchor="middle">*</text>
<text transform="translate(195.20,187.00) rotate(-90) scale(0.1)" font-size="65.0" class="b" text-anchor="middle" textLength="813.0" lengthAdjust="spacingAndGlyphs">Survival of donor cells (%)</text>
<line x1="223.3" y1="157.6" x2="223.3" y2="155.0" stroke="#000" stroke-width="0.9"/>
<line x1="221.0" y1="155.0" x2="225.7" y2="155.0" stroke="#000" stroke-width="0.9"/>
<rect x="218.7" y="158.1" width="9.2" height="73.8" fill="#fff" stroke="#000" stroke-width="1.3"/>
<line x1="235.6" y1="210.6" x2="235.6" y2="208.0" stroke="#000" stroke-width="0.9"/>
<line x1="233.3" y1="208.0" x2="238.0" y2="208.0" stroke="#000" stroke-width="0.9"/>
<rect x="231.1" y="210.6" width="9.1" height="21.3" fill="#000"/>
<rect x="252.3" y="227.2" width="8.4" height="4.7" fill="#fff" stroke="#000" stroke-width="1.3"/>
<rect x="264.0" y="229.9" width="9.5" height="2.0" fill="#000"/>
<line x1="289.7" y1="157.2" x2="289.7" y2="156.0" stroke="#000" stroke-width="0.9"/>
<line x1="287.3" y1="156.0" x2="292.1" y2="156.0" stroke="#000" stroke-width="0.9"/>
<rect x="285.5" y="157.7" width="8.4" height="74.2" fill="#fff" stroke="#000" stroke-width="1.3"/>
<line x1="302.0" y1="215.4" x2="302.0" y2="214.8" stroke="#000" stroke-width="0.9"/>
<line x1="299.6" y1="214.8" x2="304.4" y2="214.8" stroke="#000" stroke-width="0.9"/>
<rect x="297.4" y="215.4" width="9.2" height="16.5" fill="#000"/>
<line x1="322.8" y1="183.6" x2="322.8" y2="169.0" stroke="#000" stroke-width="0.9"/>
<line x1="320.4" y1="169.0" x2="325.2" y2="169.0" stroke="#000" stroke-width="0.9"/>
<rect x="318.5" y="184.1" width="8.6" height="47.8" fill="#fff" stroke="#000" stroke-width="1.3"/>
<line x1="335.3" y1="223.4" x2="335.3" y2="221.6" stroke="#000" stroke-width="0.9"/>
<line x1="332.9" y1="221.6" x2="337.7" y2="221.6" stroke="#000" stroke-width="0.9"/>
<rect x="330.6" y="223.4" width="9.4" height="8.5" fill="#000"/>
<line x1="213.2" y1="143.4" x2="213.2" y2="232.6" stroke="#000" stroke-width="1.35"/>
<line x1="210.6" y1="231.9" x2="345.6" y2="231.9" stroke="#000" stroke-width="1.45"/>
<line x1="210.6" y1="231.9" x2="213.2" y2="231.9" stroke="#000" stroke-width="1.1"/>
<text transform="translate(209.30,233.90) scale(0.1)" font-size="68.0" class="b" text-anchor="end" textLength="32.0" lengthAdjust="spacingAndGlyphs" stroke="#000" stroke-width="1.4">0</text>
<line x1="210.6" y1="214.3" x2="213.2" y2="214.3" stroke="#000" stroke-width="1.1"/>
<text transform="translate(209.30,216.30) scale(0.1)" font-size="68.0" class="b" text-anchor="end" textLength="64.0" lengthAdjust="spacingAndGlyphs" stroke="#000" stroke-width="1.4">20</text>
<line x1="210.6" y1="196.7" x2="213.2" y2="196.7" stroke="#000" stroke-width="1.1"/>
<text transform="translate(209.30,198.70) scale(0.1)" font-size="68.0" class="b" text-anchor="end" textLength="64.0" lengthAdjust="spacingAndGlyphs" stroke="#000" stroke-width="1.4">40</text>
<line x1="210.6" y1="179.1" x2="213.2" y2="179.1" stroke="#000" stroke-width="1.1"/>
<text transform="translate(209.30,181.10) scale(0.1)" font-size="68.0" class="b" text-anchor="end" textLength="64.0" lengthAdjust="spacingAndGlyphs" stroke="#000" stroke-width="1.4">60</text>
<line x1="210.6" y1="161.5" x2="213.2" y2="161.5" stroke="#000" stroke-width="1.1"/>
<text transform="translate(209.30,163.50) scale(0.1)" font-size="68.0" class="b" text-anchor="end" textLength="64.0" lengthAdjust="spacingAndGlyphs" stroke="#000" stroke-width="1.4">80</text>
<line x1="210.6" y1="143.9" x2="213.2" y2="143.9" stroke="#000" stroke-width="1.1"/>
<text transform="translate(209.30,145.90) scale(0.1)" font-size="68.0" class="b" text-anchor="end" textLength="96.0" lengthAdjust="spacingAndGlyphs" stroke="#000" stroke-width="1.4">100</text>
<line x1="229.6" y1="231.9" x2="229.6" y2="235.20000000000002" stroke="#000" stroke-width="1.1"/>
<text transform="translate(221.80,240.50) scale(0.1)" font-size="65.0" class="b" textLength="157.0" lengthAdjust="spacingAndGlyphs">Naive</text>
<line x1="262.6" y1="231.9" x2="262.6" y2="235.20000000000002" stroke="#000" stroke-width="1.1"/>
<text transform="translate(254.00,240.50) scale(0.1)" font-size="65.0" class="b" textLength="170.0" lengthAdjust="spacingAndGlyphs">B6 SP</text>
<line x1="297.4" y1="231.9" x2="297.4" y2="235.20000000000002" stroke="#000" stroke-width="1.1"/>
<text transform="translate(280.10,240.50) scale(0.1)" font-size="65.0" class="b" textLength="365.0" lengthAdjust="spacingAndGlyphs">BALB/c MSC</text>
<line x1="329.1" y1="231.9" x2="329.1" y2="235.20000000000002" stroke="#000" stroke-width="1.1"/>
<text transform="translate(317.60,240.50) scale(0.1)" font-size="65.0" class="b" textLength="224.0" lengthAdjust="spacingAndGlyphs">B6 MSC</text>
<rect x="219.3" y="142.3" width="13.0" height="3.4" fill="#fff" stroke="#000" stroke-width="1.25"/>
<rect x="218.8" y="148.5" width="14.0" height="4.3" fill="#000"/>
<text transform="translate(233.80,146.60) scale(0.1)" font-size="52.0" fill="#333">3h</text>
<text transform="translate(233.80,153.00) scale(0.1)" font-size="52.0" fill="#333">1d</text>
<path d="M289.2 148.70000000000002V146.3H322.8V148.70000000000002" fill="none" stroke="#333" stroke-width="0.7"/>
<text transform="translate(304.90,145.90) scale(0.1)" font-size="85.0" class="b" text-anchor="middle">*</text>
<path d="M301.3 164.9V162.5H335.2V164.9" fill="none" stroke="#333" stroke-width="0.7"/>
<text transform="translate(317.80,161.90) scale(0.1)" font-size="85.0" class="b" text-anchor="middle">*</text>
<text transform="translate(368.80,186.20) rotate(-90) scale(0.1)" font-size="65.0" class="b" text-anchor="middle" textLength="813.0" lengthAdjust="spacingAndGlyphs">Survival of donor cells (%)</text>
<line x1="396.9" y1="174.8" x2="396.9" y2="171.2" stroke="#000" stroke-width="0.9"/>
<line x1="394.5" y1="171.2" x2="399.2" y2="171.2" stroke="#000" stroke-width="0.9"/>
<rect x="392.6" y="175.3" width="8.6" height="55.5" fill="#fff" stroke="#000" stroke-width="1.3"/>
<line x1="409.3" y1="200.0" x2="409.3" y2="190.0" stroke="#000" stroke-width="0.9"/>
<line x1="406.9" y1="190.0" x2="411.7" y2="190.0" stroke="#000" stroke-width="0.9"/>
<rect x="404.6" y="200.0" width="9.4" height="30.8" fill="#000"/>
<rect x="425.9" y="225.5" width="8.2" height="5.3" fill="#fff" stroke="#000" stroke-width="1.3"/>
<rect x="437.4" y="229.6" width="9.2" height="1.2" fill="#000"/>
<line x1="463.2" y1="152.0" x2="463.2" y2="145.0" stroke="#000" stroke-width="0.9"/>
<line x1="460.8" y1="145.0" x2="465.6" y2="145.0" stroke="#000" stroke-width="0.9"/>
<rect x="458.9" y="152.5" width="8.6" height="78.3" fill="#fff" stroke="#000" stroke-width="1.3"/>
<line x1="475.4" y1="204.0" x2="475.4" y2="203.4" stroke="#000" stroke-width="0.9"/>
<line x1="473.0" y1="203.4" x2="477.8" y2="203.4" stroke="#000" stroke-width="0.9"/>
<rect x="470.4" y="204.0" width="10.0" height="26.8" fill="#000"/>
<line x1="496.3" y1="183.6" x2="496.3" y2="179.6" stroke="#000" stroke-width="0.9"/>
<line x1="493.9" y1="179.6" x2="498.7" y2="179.6" stroke="#000" stroke-width="0.9"/>
<rect x="492.1" y="184.1" width="8.4" height="46.7" fill="#fff" stroke="#000" stroke-width="1.3"/>
<line x1="508.8" y1="220.7" x2="508.8" y2="219.6" stroke="#000" stroke-width="0.9"/>
<line x1="506.4" y1="219.6" x2="511.1" y2="219.6" stroke="#000" stroke-width="0.9"/>
<rect x="504.0" y="220.7" width="9.5" height="10.1" fill="#000"/>
<line x1="386.5" y1="142.4" x2="386.5" y2="231.5" stroke="#000" stroke-width="1.35"/>
<line x1="383.9" y1="230.8" x2="520" y2="230.8" stroke="#000" stroke-width="1.45"/>
<line x1="383.9" y1="230.8" x2="386.5" y2="230.8" stroke="#000" stroke-width="1.1"/>
<text transform="translate(383.20,232.80) scale(0.1)" font-size="68.0" class="b" text-anchor="end" textLength="32.0" lengthAdjust="spacingAndGlyphs" stroke="#000" stroke-width="1.4">0</text>
<line x1="383.9" y1="213.2" x2="386.5" y2="213.2" stroke="#000" stroke-width="1.1"/>
<text transform="translate(383.20,215.22) scale(0.1)" font-size="68.0" class="b" text-anchor="end" textLength="64.0" lengthAdjust="spacingAndGlyphs" stroke="#000" stroke-width="1.4">20</text>
<line x1="383.9" y1="195.6" x2="386.5" y2="195.6" stroke="#000" stroke-width="1.1"/>
<text transform="translate(383.20,197.64) scale(0.1)" font-size="68.0" class="b" text-anchor="end" textLength="64.0" lengthAdjust="spacingAndGlyphs" stroke="#000" stroke-width="1.4">40</text>
<line x1="383.9" y1="178.1" x2="386.5" y2="178.1" stroke="#000" stroke-width="1.1"/>
<text transform="translate(383.20,180.06) scale(0.1)" font-size="68.0" class="b" text-anchor="end" textLength="64.0" lengthAdjust="spacingAndGlyphs" stroke="#000" stroke-width="1.4">60</text>
<line x1="383.9" y1="160.5" x2="386.5" y2="160.5" stroke="#000" stroke-width="1.1"/>
<text transform="translate(383.20,162.48) scale(0.1)" font-size="68.0" class="b" text-anchor="end" textLength="64.0" lengthAdjust="spacingAndGlyphs" stroke="#000" stroke-width="1.4">80</text>
<line x1="383.9" y1="142.9" x2="386.5" y2="142.9" stroke="#000" stroke-width="1.1"/>
<text transform="translate(383.20,144.90) scale(0.1)" font-size="68.0" class="b" text-anchor="end" textLength="96.0" lengthAdjust="spacingAndGlyphs" stroke="#000" stroke-width="1.4">100</text>
<line x1="403" y1="230.8" x2="403" y2="234.10000000000002" stroke="#000" stroke-width="1.1"/>
<text transform="translate(395.00,239.40) scale(0.1)" font-size="65.0" class="b" textLength="160.0" lengthAdjust="spacingAndGlyphs">Naive</text>
<line x1="436" y1="230.8" x2="436" y2="234.10000000000002" stroke="#000" stroke-width="1.1"/>
<text transform="translate(425.00,239.40) scale(0.1)" font-size="65.0" class="b" textLength="220.0" lengthAdjust="spacingAndGlyphs">C3H SP</text>
<line x1="470.6" y1="230.8" x2="470.6" y2="234.10000000000002" stroke="#000" stroke-width="1.1"/>
<text transform="translate(453.60,239.40) scale(0.1)" font-size="65.0" class="b" textLength="342.0" lengthAdjust="spacingAndGlyphs">BALB/cMSC</text>
<line x1="502.6" y1="230.8" x2="502.6" y2="234.10000000000002" stroke="#000" stroke-width="1.1"/>
<text transform="translate(487.80,239.40) scale(0.1)" font-size="65.0" class="b" textLength="278.0" lengthAdjust="spacingAndGlyphs">C3H MSC</text>
<rect x="392.8" y="141.8" width="13.2" height="3.2" fill="#fff" stroke="#000" stroke-width="1.25"/>
<rect x="392.3" y="149.6" width="14.2" height="4.2" fill="#000"/>
<text transform="translate(407.60,145.90) scale(0.1)" font-size="52.0" fill="#333">3h</text>
<text transform="translate(407.60,154.00) scale(0.1)" font-size="52.0" fill="#333">1d</text>
</g></svg></body></html>
